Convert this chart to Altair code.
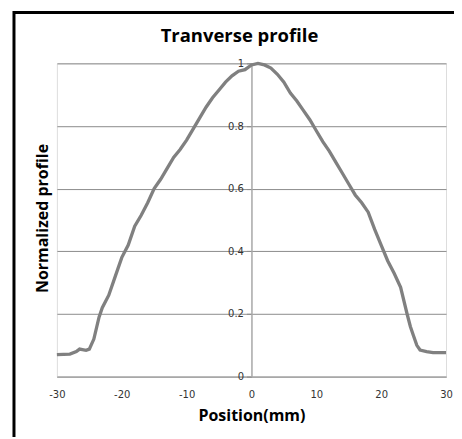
import altair as alt
import pandas as pd

positions = [-30, -28, -27, -26.5, -25.5, -25, -24.3, -23.5, -23, -22, -21, -20, -19, -18,
             -17, -16, -15, -14, -13, -12, -11, -10, -9, -8, -7, -6, -5, -4, -3, -2, -1,
             0, 1, 2, 3, 4, 5, 6, 7, 8, 9, 10, 11, 12, 13, 14, 15, 16, 17, 18, 19, 20,
             21, 22, 23, 24, 24.5, 25, 25.5, 26, 27, 28, 30]
profile = [0.070, 0.072, 0.080, 0.088, 0.084, 0.088, 0.12, 0.19, 0.22, 0.26, 0.32, 0.38, 0.42, 0.48,
           0.515, 0.555, 0.60, 0.63, 0.665, 0.70, 0.725, 0.755, 0.79, 0.825, 0.86, 0.89, 0.915, 0.94, 0.96, 0.975, 0.98,
           0.995, 1.0, 0.995, 0.985, 0.965, 0.94, 0.905, 0.88, 0.85, 0.82, 0.785, 0.75, 0.72, 0.685, 0.65, 0.615, 0.58,
           0.555, 0.525, 0.47, 0.42, 0.37, 0.33, 0.285, 0.2, 0.16, 0.13, 0.10, 0.085, 0.08, 0.077, 0.077]

x_ticks = [-30, -20, -10, 0, 10, 20, 30]
y_ticks = [0, 0.2, 0.4, 0.6, 0.8, 1]
chart_title = "Tranverse profile"

df = pd.DataFrame({"Position": positions, "Profile": profile})

line = alt.Chart(df).mark_line(color="#808080", strokeWidth=3.3).encode(
    x=alt.X("Position:Q",
            scale=alt.Scale(domain=[-30, 30], nice=False, zero=False),
            axis=alt.Axis(values=x_ticks, title="Position(mm)", grid=False,
                          domainColor="#a8a8a8", domainWidth=1.5, ticks=False,
                          labelFlush=False, labelExpr="'' + datum.value",
                          labelFont="DejaVu Sans", labelFontSize=10, labelColor="#333333",
                          labelPadding=13, titleFont="Open Sans", titleFontSize=16,
                          titleFontWeight="bold", titleColor="black", titlePadding=8)),
    y=alt.Y("Profile:Q",
            scale=alt.Scale(domain=[0, 1], nice=False),
            axis=alt.Axis(values=y_ticks, format="~g", offset=-195, grid=True,
                          gridColor="#8c8c8c", gridWidth=1,
                          domainColor="#a8a8a8", domainWidth=1.5,
                          tickColor="#8c8c8c", tickSize=5, labelFlush=False,
                          labelFont="DejaVu Sans", labelFontSize=10, labelColor="#333333",
                          labelPadding=3,
                          title="Normalized profile", titleFont="Open Sans", titleFontSize=16,
                          titleFontWeight="bold", titleColor="black",
                          titleX=-209, titleY=155, titleAngle=-90, titleBaseline="middle",
                          titleAlign="center")),
)

title = alt.Chart(pd.DataFrame({"t": [chart_title]})).mark_text(
    font="Open Sans", fontSize=18.5, fontWeight="bold", color="black",
    align="center", baseline="alphabetic"
).encode(text="t:N", x=alt.value(183), y=alt.value(-21))

border = alt.Chart(pd.DataFrame({"k": [0]})).mark_rect(
    fillOpacity=0, stroke="black", strokeWidth=3
).encode(x=alt.value(-43), x2=alt.value(430), y=alt.value(-51), y2=alt.value(420))

chart = alt.layer(line, title, border).properties(
    width=390,
    height=314,
    autosize=alt.AutoSizeParams(type="none"),
    padding={"left": 49, "top": 55, "right": 8, "bottom": 60},
).configure_view(stroke=None).configure(background="white")

chart.save("out.html", embed_options={"renderer": "svg", "actions": False})
